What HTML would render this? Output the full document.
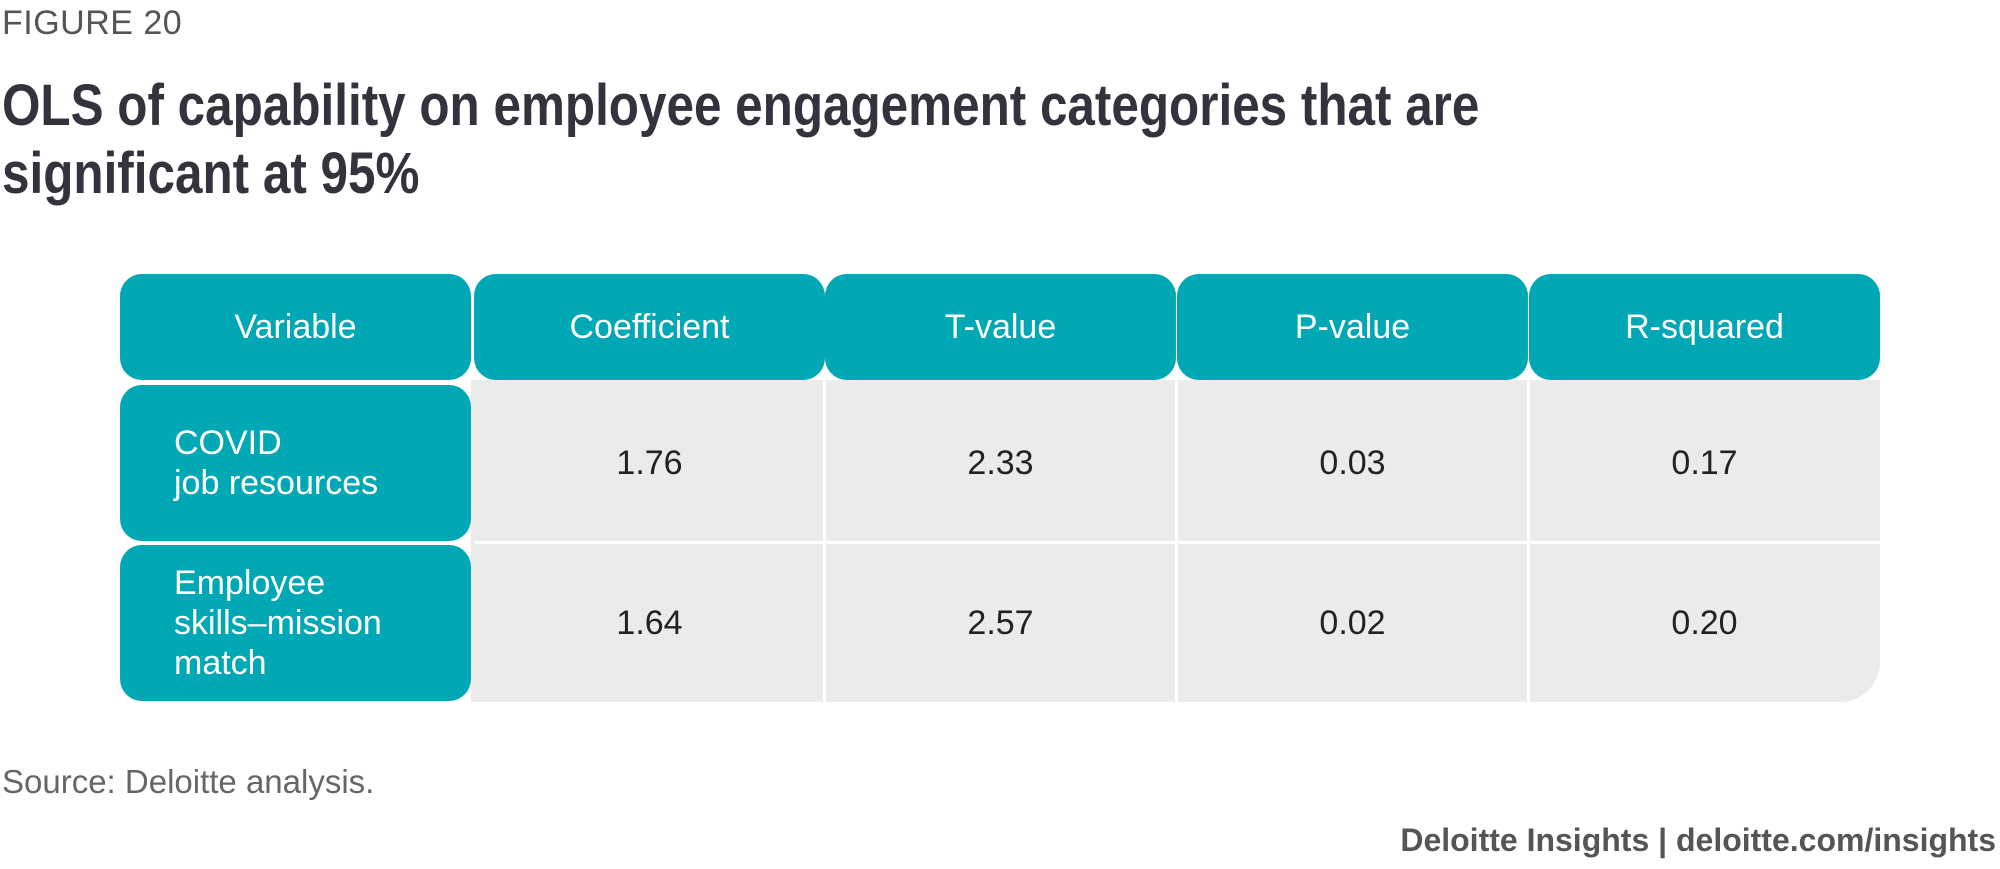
<!DOCTYPE html>
<html><head><meta charset="utf-8">
<style>
html,body{margin:0;padding:0;background:#fff;}
body{width:2000px;height:869px;position:relative;overflow:hidden;font-family:"Liberation Sans",sans-serif;}
.abs{position:absolute;}
#fig{left:2px;top:4px;font-size:34px;color:#555;letter-spacing:0.5px;}
.title{left:2px;font-size:58px;font-weight:bold;color:#33333d;transform:scaleX(0.852);transform-origin:0 0;white-space:nowrap;}
.cell{position:absolute;box-sizing:border-box;display:flex;align-items:center;justify-content:center;font-size:34px;}
.hdr{background:#00a7b5;color:#fff;border-radius:22px;}
.var{background:#00a7b5;color:#fff;border-radius:22px;justify-content:flex-start;padding-left:54px;line-height:40px;}
.val{color:#222;}
#grey{left:471px;top:380px;width:1409px;height:322px;background:#ebebeb;border-radius:0 0 40px 0;}
#source{left:2px;top:763px;font-size:33px;color:#666;}
#footer{right:4px;top:822px;font-size:32px;color:#555;font-weight:bold;}
</style></head>
<body>
<div id="fig" class="abs">FIGURE 20</div>
<div class="abs title" style="top:72px">OLS of capability on employee engagement categories that are</div>
<div class="abs title" style="top:140px">significant at 95%</div>
<div id="grey" class="abs"></div>
<div id="table"></div>
<div id="source" class="abs">Source: Deloitte analysis.</div>
<div id="footer" class="abs">Deloitte Insights | deloitte.com/insights</div>
<script>
const headers = ["Variable","Coefficient","T-value","P-value","R-squared"];
const variables = ["COVID<br>job resources","Employee<br>skills–mission<br>match"];
const coefficients = ["1.76","1.64"];
const tvalues = ["2.33","2.57"];
const pvalues = ["0.03","0.02"];
const rsquared = ["0.17","0.20"];

const table = document.getElementById('table');
const colX = [120,474,825,1177,1529];
const colW = 351;
const hdrTop = 274, hdrH = 106;
const rowTop = [385,545], rowH = 156;
function addCell(cls, x, y, w, h, html, name){
  const d = document.createElement('div');
  d.className = 'cell ' + cls;
  d.style.left = x+'px'; d.style.top = y+'px'; d.style.width = w+'px'; d.style.height = h+'px';
  d.innerHTML = html;
  
  
  table.appendChild(d);
  return d;
}
headers.forEach((h,i)=>{
  addCell('hdr', colX[i], hdrTop, colW, hdrH, h, 'header-' + h.toLowerCase());
});
const cols = [coefficients, tvalues, pvalues, rsquared];
const colNames = ['coefficient','t-value','p-value','r-squared'];
variables.forEach((v,r)=>{
  addCell('var', colX[0], rowTop[r], colW, rowH, '<span>'+v+'</span>', 'variable-cell-row-'+(r+1));
  cols.forEach((arr,c)=>{
    addCell('val', colX[c+1], rowTop[r], colW, rowH, arr[r], colNames[c]+'-cell-row-'+(r+1));
  });
});
[823.5,1175.5,1527.5].forEach((x,i)=>{
  const l = document.createElement('div');
  l.className='abs'; l.style.left=(x-1)+'px'; l.style.top='380px'; l.style.width='3px'; l.style.height='322px'; l.style.background='#fff';
  
  
  table.appendChild(l);
});
const hl = document.createElement('div');
hl.className='abs'; hl.style.left='474px'; hl.style.top='541px'; hl.style.width='1406px'; hl.style.height='3px'; hl.style.background='#fff';


table.appendChild(hl);
</script>
</body></html>
